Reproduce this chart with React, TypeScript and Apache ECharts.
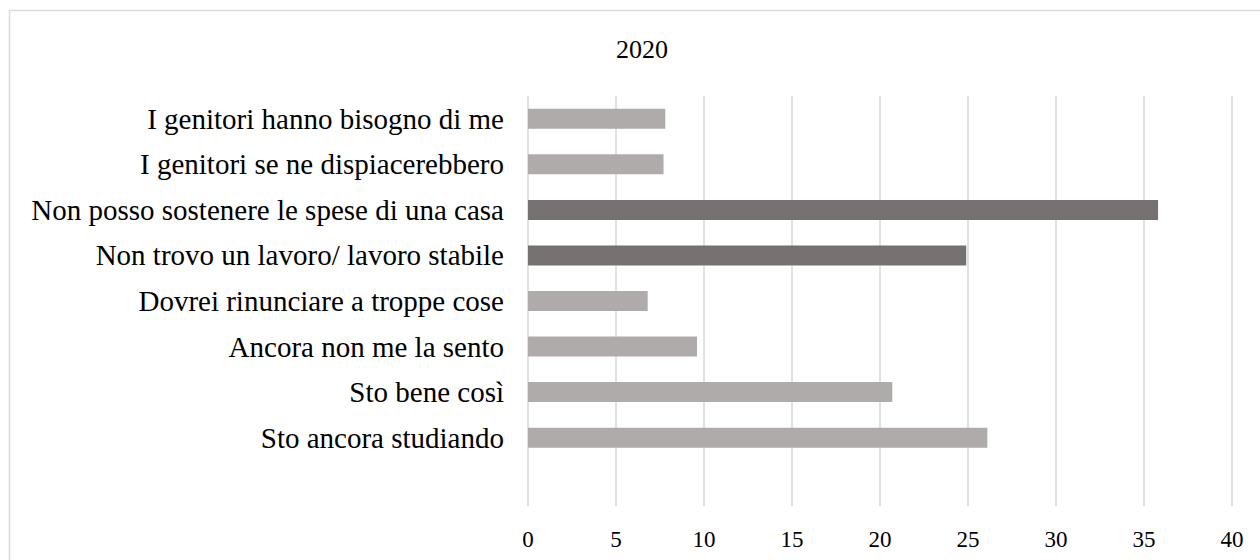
import React, { useEffect, useRef } from "react";
import * as echarts from "echarts";

const categories = [
  "I genitori hanno bisogno di me",
  "I genitori se ne dispiacerebbero",
  "Non posso sostenere le spese di una casa",
  "Non trovo un lavoro/ lavoro stabile",
  "Dovrei rinunciare a troppe cose",
  "Ancora non me la sento",
  "Sto bene così",
  "Sto ancora studiando",
  "",
];
const values: (number | null)[] = [7.8, 7.7, 35.8, 24.9, 6.8, 9.6, 20.7, 26.1, null];
const highlighted = [false, false, true, true, false, false, false, false, false];
const title = "2020";

const FONT = "'Liberation Serif', 'Times New Roman', serif";

export default function App() {
  const ref = useRef<HTMLDivElement>(null);
  useEffect(() => {
    if (!ref.current) return;
    const chart = echarts.init(ref.current, undefined, { renderer: "svg" });
    chart.setOption({
      animation: false,
      backgroundColor: "#ffffff",
      graphic: [
        {
          type: "rect",
          shape: { x: 9.5, y: 10.5, width: 1400, height: 700 },
          style: { fill: "none", stroke: "#d9d9d9", lineWidth: 1.5 },
          silent: true,
        },
        {
          type: "text",
          x: 642,
          y: 49,
          style: {
            text: title,
            font: `26px ${FONT}`,
            fill: "#000000",
            textAlign: "center",
            textVerticalAlign: "middle",
          },
        },
      ],
      grid: { left: 528, right: 28, top: 96, bottom: 54, containLabel: false },
      xAxis: {
        type: "value",
        min: 0,
        max: 40,
        interval: 5,
        axisLine: { show: false },
        axisTick: { show: false },
        splitLine: { show: true, lineStyle: { color: "#d9d9d9", width: 1.5 } },
        axisLabel: { color: "#000000", fontFamily: FONT, fontSize: 23, margin: 22 },
      },
      yAxis: {
        type: "category",
        inverse: true,
        data: categories,
        axisLine: { show: false },
        axisTick: { show: false },
        splitLine: { show: false },
        axisLabel: { color: "#000000", fontFamily: FONT, fontSize: 29, margin: 24 },
      },
      series: [
        {
          type: "bar",
          barWidth: 20,
          data: values.map((v, i) => ({
            value: v,
            itemStyle: { color: highlighted[i] ? "#767171" : "#afabab" },
          })),
        },
      ],
    });
    return () => chart.dispose();
  }, []);
  return (
    <div
      ref={ref}
      style={{ position: "fixed", left: 0, top: 0, width: 1260, height: 560 }}
    />
  );
}
